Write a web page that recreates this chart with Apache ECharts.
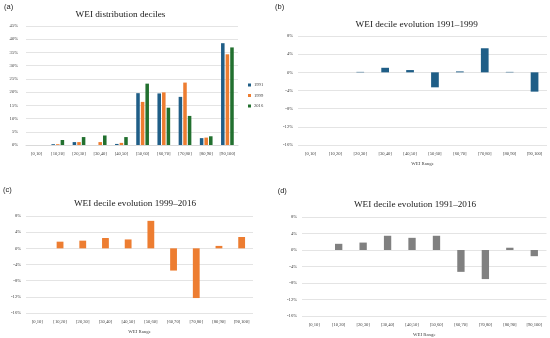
<!DOCTYPE html>
<html>
<head>
<meta charset="utf-8">
<script src="https://cdn.jsdelivr.net/npm/echarts@6/dist/echarts.min.js"></script>
<style>html,body{margin:0;padding:0;background:#fff}#c{width:550px;height:338px}</style>
</head>
<body>
<div id="c"></div>
<script>
const categories = ['[0,10]','[10,20]','[20,30]','[30,40]','[40,50]','[50,60]','[60,70]','[70,80]','[80,90]','[90,100]'];
const years = ['1991','1999','2016'];
const dist1991 = [0, 0.3, 1.1, 0, 0.4, 19.6, 19.5, 18.2, 2.6, 38.5];
const dist1999 = [0, 0.3, 1.1, 1.1, 0.8, 16.3, 19.9, 23.6, 2.8, 34.3];
const dist2016 = [0, 1.9, 3.0, 3.6, 3.0, 23.2, 14.1, 11.0, 3.3, 36.9];
const evo1991_1999 = [0, 0, 0.1, 1.0, 0.5, -3.3, 0.2, 5.3, 0.1, -4.25];
const evo1999_2016 = [0, 1.65, 1.9, 2.55, 2.2, 6.8, -5.5, -12.3, 0.6, 2.8];
const evo1991_2016 = [0, 1.5, 1.8, 3.45, 2.95, 3.45, -5.3, -7.05, 0.55, -1.5];
const panelTitles = ['WEI distribution deciles','WEI decile evolution 1991\u20131999','WEI decile evolution 1999\u20132016','WEI decile evolution 1991\u20132016'];
const panelTags = ['(a)','(b)','(c)','(d)'];
const axisName = 'WEI Range';

const SERIF = '"Liberation Serif", "DejaVu Serif", serif';
const colors = {b:'#1f5e87', o:'#ed7d31', g:'#22702f', k:'#808080'};
const grids = [
  {left:26, top:26, width:212, height:119},
  {left:298, top:36, width:249, height:109},
  {left:26, top:216, width:227, height:97},
  {left:302, top:217, width:244.5, height:100}
];
function xAx(i, named){
  return {type:'category', gridIndex:i, data:categories,
    axisLine:{show:i===0, onZero:false, lineStyle:{color:'#d9d9d9'}}, axisTick:{show:false},
    axisLabel:{fontFamily:SERIF, fontSize:4.6, color:'#404040', margin:6, interval:0},
    name: named ? axisName : '', nameLocation:'middle', nameGap:16,
    nameTextStyle:{fontFamily:SERIF, fontSize:4.8, color:'#404040'}};
}
function yAx(i, min, max, interval){
  return {type:'value', gridIndex:i, min:min, max:max, interval:interval,
    axisLine:{show:false}, axisTick:{show:false},
    splitLine:{lineStyle:{color:'#e4e4e4', width:1}},
    axisLabel:{fontFamily:SERIF, fontSize:4.6, color:'#404040', margin: i===0?8:5, formatter:'{value}%'}};
}
const chart = echarts.init(document.getElementById('c'), null, {renderer:'canvas'});
const titlePos = [[120.5,15],[416.7,24.3],[135,203.3],[415,204.7]];
const tagPos = [[4,6.5],[275,6.7],[3,189.7],[277.7,190.7]];
const graphic = [];
panelTitles.forEach((t,i)=>{
  graphic.push({type:'text', x:titlePos[i][0], y:titlePos[i][1],
    style:{text:t, fontFamily:SERIF, fontSize:9.2, fill:'#1a1a1a', textAlign:'center', textVerticalAlign:'middle'}});
  graphic.push({type:'text', x:tagPos[i][0], y:tagPos[i][1],
    style:{text:panelTags[i], fontFamily:'"Liberation Sans", Arial, sans-serif', fontSize:7.5, fill:'#1a1a1a', textAlign:'left', textVerticalAlign:'middle'}});
});
chart.setOption({
  animation:false,
  graphic: graphic,
  legend:{orient:'vertical', left:243, top:77.5, itemWidth:3, itemHeight:3, itemGap:5.5,
    icon:'rect', data:years, textStyle:{fontFamily:SERIF, fontSize:4.6, color:'#404040', padding:[0,0,0,-2]}},
  grid: grids,
  xAxis:[xAx(0,false), xAx(1,true), xAx(2,true), xAx(3,true)],
  yAxis:[yAx(0,0,45,5), yAx(1,-16,8,4), yAx(2,-16,8,4), yAx(3,-16,8,4)],
  series:[
    {name:years[0], type:'bar', xAxisIndex:0, yAxisIndex:0, data:dist1991, itemStyle:{color:colors.b}, barGap:'30%', barCategoryGap:'40%'},
    {name:years[1], type:'bar', xAxisIndex:0, yAxisIndex:0, data:dist1999, itemStyle:{color:colors.o}, barGap:'30%', barCategoryGap:'40%'},
    {name:years[2], type:'bar', xAxisIndex:0, yAxisIndex:0, data:dist2016, itemStyle:{color:colors.g}, barGap:'30%', barCategoryGap:'40%'},
    {type:'bar', xAxisIndex:1, yAxisIndex:1, data:evo1991_1999, itemStyle:{color:colors.b}, barWidth:'31%'},
    {type:'bar', xAxisIndex:2, yAxisIndex:2, data:evo1999_2016, itemStyle:{color:colors.o}, barWidth:'30%'},
    {type:'bar', xAxisIndex:3, yAxisIndex:3, data:evo1991_2016, itemStyle:{color:colors.k}, barWidth:'30%'}
  ]
});
</script>
</body>
</html>
